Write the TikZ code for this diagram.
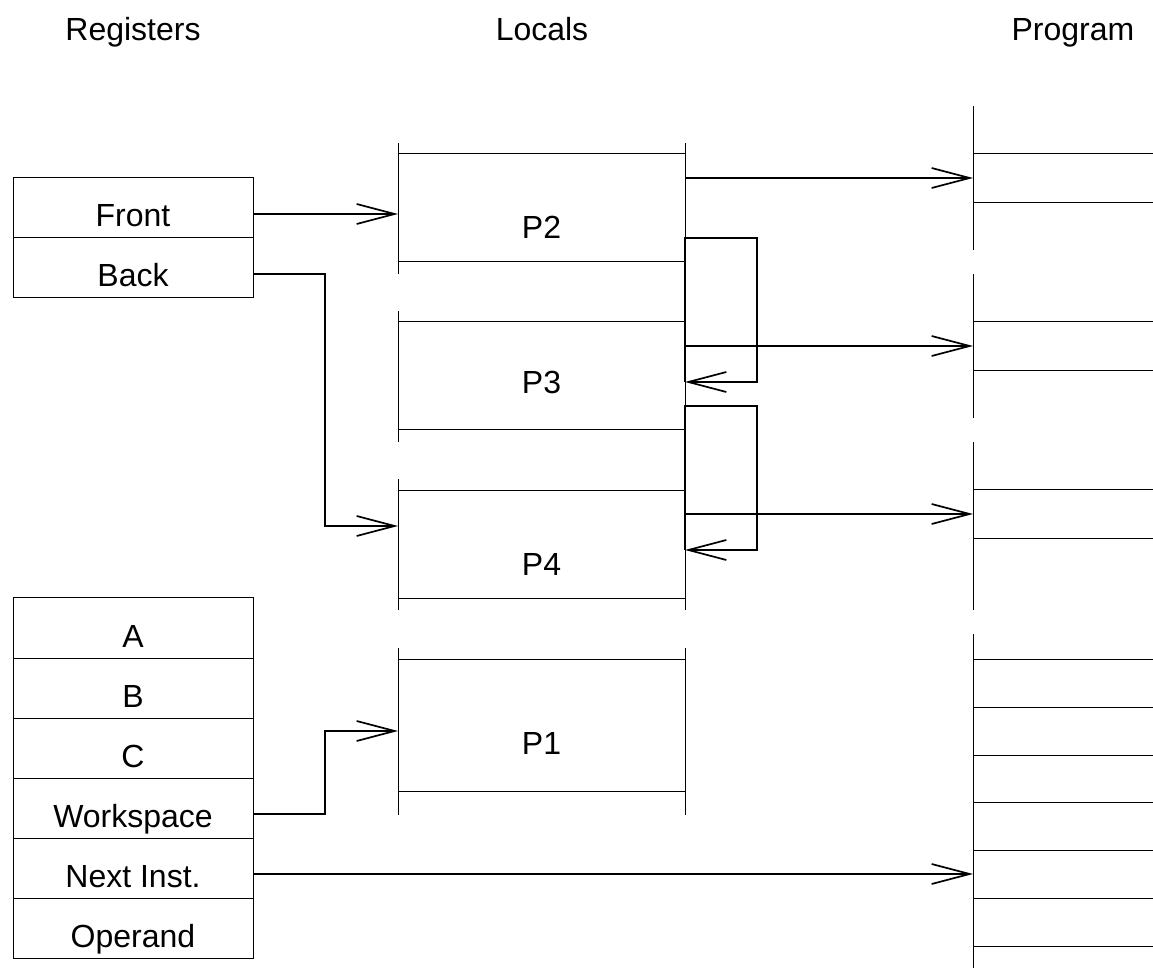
\documentclass[tikz,border=0pt]{standalone}
\usepackage{fontspec}
\setmainfont{Liberation Sans}
\usepackage{tikz}
\usetikzlibrary{arrows.meta, positioning}

\tikzset{
  frame/.style={line width=0.5pt},
  conn/.style={line width=0.85pt, -{Straight Barb[length=19pt,width=10pt]}},
  regcell/.style={draw, line width=0.5pt, minimum width=120pt, minimum height=30pt,
    inner sep=0pt, outer sep=0pt, text height=19pt, text depth=0pt},
  locbox/.style={minimum width=143.5pt, minimum height=54pt, inner sep=0pt,
    outer sep=0pt, text height=30.5pt, text depth=0pt},
  head/.style={anchor=base}
}

\begin{document}
\begin{tikzpicture}[x=0.5pt, y=-0.5pt, font=\fontsize{16}{19}\selectfont]
\useasboundingbox (0,0) rectangle (1153,968);

% headings
\node[head] (hreg) at (133,41) {Registers};
\node[head] (hloc) at (542,41) {Locals};
\node[head] (hprog) at (1073,41) {Program};

% registers
\node[regcell] (front) at (133,208) {Front};
\node[regcell, below=0pt of front] (back) {Back};

\node[regcell] (ra) at (133,628) {A};
\node[regcell, below=0pt of ra] (rb) {B};
\node[regcell, below=0pt of rb] (rc) {C};
\node[regcell, below=0pt of rc] (ws) {Workspace};
\node[regcell, below=0pt of ws] (next) {Next Inst.};
\node[regcell, below=0pt of next] (opnd) {Operand};

% locals
\node[locbox] (p2) at (541.5,208) {P2};
\node[locbox, text height=17.5pt] (p3) at (541.5,376) {P3};
\node[locbox] (p4) at (541.5,544.5) {P4};
\node[locbox, minimum height=66pt, text height=29.5pt] (p1) at (541.5,725) {P1};

\foreach \p/\lo in {p1/12pt, p2/6pt, p3/6pt, p4/6pt}
  \draw[frame] (\p.north west) -- (\p.north east)
               (\p.south west) -- (\p.south east)
               ([yshift=5.5pt]\p.north west) -- ([yshift=-\lo]\p.south west)
               ([yshift=5.5pt]\p.north east) -- ([yshift=-\lo]\p.south east);

% program
\draw[frame] (973,106) -- (973,250);
\draw[frame] (973,274) -- (973,418);
\draw[frame] (973,442) -- (973,610);
\draw[frame] (973,634) -- (973,968);
\foreach \y in {154,203,322,371,490,539,659,707,755,802,850,898,946}
  \draw[frame] (973,\y) -- (1153,\y);

% ends of the pointers
\coordinate (p2in) at (398,214);
\coordinate (p4in) at (398,526);
\coordinate (p1in) at (398,731);
\coordinate (p2out) at (685,178);
\coordinate (p3out) at (685,346);
\coordinate (p4out) at (685,514);
\coordinate (pc2) at (973,178);
\coordinate (pc3) at (973,346);
\coordinate (pc4) at (973,514);
\coordinate (pcnext) at (973,874);
\coordinate (l1a) at (685,238);
\coordinate (l1b) at (685,382);
\coordinate (l2a) at (685,406);
\coordinate (l2b) at (685,550);

% arrows
\draw[conn] (front.east |- p2in) -- (p2in);
\draw[conn] ([yshift=-3pt]back.east) -- ++(72,0) |- (p4in);
\draw[conn] ([yshift=-3pt]ws.east) -- ++(72,0) |- (p1in);
\draw[conn] (next.east |- pcnext) -- (pcnext);

\draw[conn] (p2out) -- (pc2);
\draw[conn] (p3out) -- (pc3);
\draw[conn] (p4out) -- (pc4);

\draw[conn] (l1b) -- (l1a) -- ++(72,0) |- (l1b);
\draw[conn] (l2b) -- (l2a) -- ++(72,0) |- (l2b);

\end{tikzpicture}
\end{document}
